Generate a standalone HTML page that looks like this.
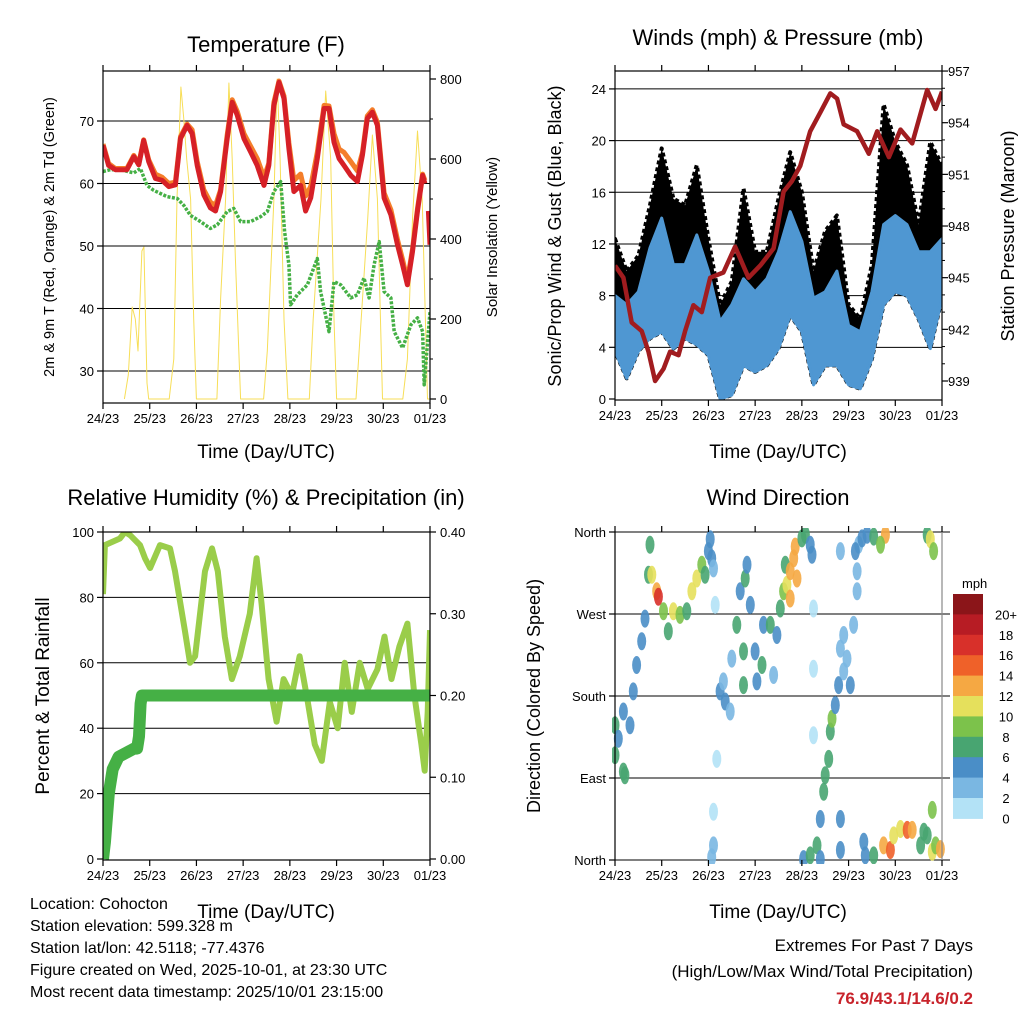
<!DOCTYPE html>
<html><head><meta charset="utf-8"><title>Station Meteogram</title>
<style>
html,body{margin:0;padding:0;background:#fff;}
svg{display:block;font-family:"Liberation Sans",Arial,sans-serif;}
</style></head>
<body>
<svg id="chart" width="1024" height="1024" viewBox="0 0 1024 1024" xmlns="http://www.w3.org/2000/svg">
<defs>
<clipPath id="c1"><rect x="103" y="71" width="327" height="332"/></clipPath>
<clipPath id="c2"><rect x="615" y="71" width="327" height="329"/></clipPath>
<clipPath id="c3"><rect x="103" y="532" width="327" height="328"/></clipPath>
<clipPath id="c4"><rect x="612" y="528" width="336" height="336"/></clipPath>
</defs>
<g id="root"></g>
</svg>
<script>
// ---------- data ----------
const dayLabels = ["24/23","25/23","26/23","27/23","28/23","29/23","30/23","01/23"];
const tempHours = [0,2.9,6.3,8.9,12.3,15.8,18.4,20.9,23.5,26.9,30.4,33.8,37.2,39.8,43.2,45.8,48.4,51.8,55.2,57.8,60.4,63.8,66.4,69,72.4,75.8,79.2,82.7,85.2,87.8,90.4,93,95.5,98.1,101.5,104.1,106.7,110.1,113.6,116.1,118.7,121.3,123.8,127.3,130.7,133.3,135.8,138.4,141,144.4,147.9,151.3,153.9,156.4,159,161.6,164.2,165.4,166.2,167.2,168];
const tempRed = [66.1,62.9,62.2,62.2,62.2,64.3,63,66.9,63.5,60.8,60.5,59.5,59.8,67.2,69.3,68,62.9,58.2,56.1,55.6,58.7,67.2,73,70.9,67.2,65.1,62.9,59.7,62.9,72.5,76.2,73.6,65.6,58.7,59.7,55.6,57.7,64,72,72,66.6,64,62.9,61.3,60.3,64.6,70.4,71.4,69.3,57.7,55,50.2,47,43.8,49.1,55.6,61.3,60,null,55.6,50.2];
const tempOrange = [66.3,63.2,62.4,62.4,62.4,64.5,63.2,67,63.8,61.5,61,60,60.2,67.5,69.5,68.6,63.5,59,57,56.5,59,67.8,73.4,71.5,68,66,64,61,63.2,73,76.4,74,66.5,60.5,61.5,58,59.5,65,72.5,72.4,68,65.5,65,63.5,62,65,70.8,71.8,69.8,58.5,55.8,51,47.8,44.5,49.5,56,61.5,60.5,null,null,null];
const dewHours = [0,3.8,8.9,15.8,19.2,22.6,26.1,32.9,38.1,41.5,44.9,50.1,55.2,58.7,63.8,67.2,70.7,75.8,81,84.4,87.8,91.3,93.3,95.5,96.4,99.8,105,110.1,111.8,116.1,118.7,122.1,127.3,130.7,134.1,136.7,139.3,141.9,144.4,147.9,149.6,153.9,158.2,161.6,164.2,165,168];
const dewGreen = [61.9,62.2,62.2,61.7,62.4,59.7,58.9,57.9,57.6,56.5,54.9,53.9,52.8,53.4,55.5,56,53.9,53.9,54.7,55.5,58.7,60.3,52.3,47,40.6,42.2,43.8,48,42.7,36.3,44.3,43.8,41.7,42.2,44.9,41.7,47,50.7,42.7,41.7,36.3,33.7,37.4,38.5,36.3,27.8,39.5];
const solarHours = [11,13,15,16.6,18,20,21,22.6,23.5, 34,36.4,38,40,41.5,43,45,46.6,48, 58.5,60.4,63,64.7,66.4,68,70.7, 82.5,84.4,87.8,89.5,91,93,95, 106,108,112,114.4,117,118.7,120, 130,132,136,138.4,141,143.6, 154,156.4,159,161.6,164,166.7,168];
const solarVals  = [0,60,230,200,120,370,380,40,0, 0,100,500,780,700,600,500,200,0, 0,250,500,790,600,350,0, 0,120,500,800,600,200,0, 0,200,500,770,600,200,0, 0,150,450,660,500,0, 0,100,450,670,500,0,0];
const windHours = [0,6,12,18,24,30,36,42,48,54,60,66,72,78,84,90,96,102,108,114,120,126,132,138,144,150,156,162,168];
const windHigh = [8.0,7.3,8.3,11.7,14,10.4,10.4,12.7,9.9,6,7.3,9.3,8.3,9.3,11.4,14.5,12.2,7.8,8.3,9.9,5.7,5.2,8.3,13.5,14.2,13.5,11.4,11.4,12.4];
const windLow  = [3.7,1.6,3.7,4.7,5.2,3.9,4.7,4.2,3.4,0,0.3,2.6,2.1,2.6,3.9,6.5,5.2,1.1,2.6,2.6,1.1,0.8,3.1,7.3,8.3,8.0,6.2,3.9,7.8];
const gustHigh = [12.4,9.9,11.1,15,19.4,15.5,15,18.1,12.4,7.3,9.1,16.3,11.4,11.4,15.5,19.1,16,9.9,13,14.2,7.3,6.2,10.4,22.8,19.9,18.1,13.5,19.9,18.1];
const presHours = [0,4.3,8.6,13.7,17.2,20.6,24.9,28.3,32.6,36,40.3,44.6,48.9,55.7,61.7,68.6,74.6,81.5,86.6,90.9,95.2,100.3,105.5,110.6,114.1,117.5,124.4,130.4,134.7,140.7,146.7,152.7,160.4,164.7,168];
const presVals  = [945.7,945.0,942.4,941.9,940.7,939.0,939.7,940.7,940.5,941.9,943.4,943.0,945.0,945.3,946.8,945.0,945.7,946.7,950.0,950.6,951.5,953.5,954.6,955.7,955.4,953.9,953.5,952.2,953.5,952.0,953.6,952.8,955.9,954.8,955.8];
const rhHours = [0,1,8.7,11.3,14,19,21.6,24.2,29.3,34.4,37,42,44.7,47.3,52.4,56,59,62.6,66.2,70.3,75.4,78.9,81.5,85.1,89.2,92.8,97,101,105.2,108.8,112.4,116.5,120.6,124.2,127.8,131.9,136,141,144.6,148.2,152.3,156.4,160,163.6,165.3,166.8,168];
const rhVals  = [81,96,98,100,99,96,92,89,96,95,88,70,60,62,88,95,88,68,55,62,75,92,78,55,42,55,50,62,48,35,30,48,40,60,45,60,52,58,68,55,65,72,50,35,27,45,70];
const precipHours = [0,1,3,5,8,12,16,17.5,18.5,19.3,20,168];
const precipVals  = [0,0.02,0.08,0.11,0.125,0.13,0.135,0.135,0.15,0.19,0.2,0.2];
const dirHours = [0,0,1.7,4.3,4.3,5.1,7.7,9.4,11.1,13.7,15.4,17.2,18,18.9,21.4,22.3,24.9,27.4,30,33.4,36.9,39.5,42,44.6,46.3,48,48.9,49.7,50.6,51.5,52.3,50.6,50.6,49.7,54,56.6,55.7,59.2,60,62.6,64.3,66,66,66.9,67.8,69.5,72,72.9,75.5,76.3,79.8,81.5,83.2,84.9,86.6,87.5,88.3,90,90,91.8,92.6,93.5,96,97.8,100.3,101.2,115.8,102,102,102,96.9,100.3,103.8,105.5,107.2,108,109.8,110.6,111.5,113.2,114.9,117.5,119.2,120.9,115.8,117.5,122.6,124.4,124.4,125.2,123.5,126.9,129.5,132.9,138.9,136.4,127.8,128.6,132.9,138,141.5,143.2,146.7,150.1,152.7,157,158.7,160.4,163,164.7,167.2,163,160.4,162,163.7,115.8,115.8,105.5];
const dirDeg = [148,115,133,163,97,93,148,185,214,240,265,313,346,313,295,289,273,251,273,269,273,295,309,324,313,339,352,331,320,280,111,53,16,3,185,174,196,163,221,258,295,229,192,309,324,280,229,196,214,258,258,203,247,276,295,324,302,287,317,331,344,309,353,357,346,335,339,276,210,137,1,5,16,45,75,93,111,141,155,170,192,207,221,192,232,247,258,295,317,346,339,353,357,355,357,346,20,5,5,16,11,27,34,33,33,16,31,27,9,16,12,55,357,352,339,45,11,1];
const dirSpeed = [7,6,5,4,7,7,5,4,4,4,4,6,7,10,12,16,8,7,10,8,7,10,10,9,7,4,4,4,2,1,1,1,3,2,4,4,3,2,2,7,4,7,6,7,4,4,4,4,7,5,7,3,4,7,8,7,10,12,12,12,13,12,7,7,4,4,2,1,1,1,4,7,7,4,7,7,6,7,8,4,4,3,3,4,3,3,2,2,2,3,4,4,5,6,12,8,4,4,7,12,15,10,10,15,12,7,6,7,10,8,12,8,7,10,8,4,4,4];
const speedBins = ["20+","18","16","14","12","10","8","6","4","2","0"];
const speedColors = ["#b3e2f6","#7ab7e2","#4a8ec7","#48a571","#7cc24b","#e5e05c","#f5a843","#ef6129","#d8302a","#b71c24","#8b1519"];

// ---------- helpers ----------
const NS = "http://www.w3.org/2000/svg";
const root = document.getElementById("root");
function mk(tag, attrs, parent){
  const e = document.createElementNS(NS, tag);
  for (const k in attrs) e.setAttribute(k, attrs[k]);
  (parent||root).appendChild(e);
  return e;
}
function txt(str, x, y, size, anchor, parent, extra){
  const t = mk("text", Object.assign({x:x, y:y, "font-size":size, "text-anchor":anchor||"middle", fill:"#000"}, extra||{}), parent);
  t.textContent = str;
  return t;
}
function linePath(xs, ys, fx, fy){
  let d = "", pen = false;
  for (let i=0;i<xs.length;i++){
    if (ys[i]===null || ys[i]===undefined){ pen=false; continue; }
    d += (pen?"L":"M") + fx(xs[i]).toFixed(1) + "," + fy(ys[i]).toFixed(1);
    pen = true;
  }
  return d;
}
function frame(x0,y0,x1,y1,name){
  const r = mk("rect",{x:x0,y:y0,width:x1-x0,height:y1-y0,fill:"none",stroke:"#000","stroke-width":1.2});
  
  
}
function xAxis(x0,x1,y0,y1,name){
  const g = mk("g",{});
  
  
  for (let i=0;i<dayLabels.length;i++){
    const x = x0 + (x1-x0)*i/7;
    mk("line",{x1:x,x2:x,y1:y1,y2:y1+6,stroke:"#000","stroke-width":1.2},g);
    mk("line",{x1:x,x2:x,y1:y0,y2:y0-6,stroke:"#000","stroke-width":1.2},g);
    const t = txt(dayLabels[i], x, y1+20, 13, "middle", g);
    
    
  }
}

// ================= PANEL 1: Temperature =================
(function(){
  const X0=103,X1=430,Y0=71,Y1=403;
  const xT = h => X0 + h*(X1-X0)/168;
  const yT = v => 371 - (v-30)*6.25;
  const yS = v => 399 - v*0.4;
  const g = mk("g",{});
  
  
  [30,40,50,60,70].forEach(v=>{
    const l = mk("line",{x1:X0,x2:X1,y1:yT(v),y2:yT(v),stroke:"#000","stroke-width":1},g);
    
    
    mk("line",{x1:X0-6,x2:X0,y1:yT(v),y2:yT(v),stroke:"#000","stroke-width":1.2},g);
    const t = txt(String(v), X0-9, yT(v)+5, 13, "end", g);
    
    
  });
  [0,200,400,600,800].forEach(v=>{
    mk("line",{x1:X1,x2:X1+6,y1:yS(v),y2:yS(v),stroke:"#000","stroke-width":1.2},g);
    const t = txt(String(v), X1+10, yS(v)+5, 13, "start", g);
    
    
  });
  for (let v=100; v<800; v+=200){ mk("line",{x1:X1,x2:X1+3,y1:yS(v),y2:yS(v),stroke:"#000"},g); }
  const c = mk("g",{"clip-path":"url(#c1)"},g);
  const s = mk("path",{d:linePath(solarHours,solarVals,xT,yS),fill:"none",stroke:"#f7de57","stroke-width":1,"stroke-linejoin":"round"},c);
  
  
  const dw = mk("path",{d:linePath(dewHours,dewGreen,xT,yT),fill:"none",stroke:"#45b045","stroke-width":3.5,"stroke-dasharray":"3 1.5","stroke-linejoin":"round"},c);
  
  
  const o = mk("path",{d:linePath(tempHours,tempOrange,xT,yT),fill:"none",stroke:"#f47e2a","stroke-width":5,"stroke-linejoin":"round"},c);
  
  
  const r = mk("path",{d:linePath(tempHours,tempRed,xT,yT),fill:"none",stroke:"#d62027","stroke-width":5,"stroke-linejoin":"round"},c);
  
  
  frame(X0,Y0,X1,Y1,'temperature-plot-frame');
  xAxis(X0,X1,Y0,Y1,'temperature-x-axis');
  let t = txt("Temperature (F)", 266, 52, 22, "middle", g);
   
  t = txt("2m & 9m T (Red, Orange) & 2m Td (Green)", 0, 0, 14.5, "middle", g, {transform:"translate(54,237) rotate(-90)"});
   
  t = txt("Solar Insolation (Yellow)", 0, 0, 15, "middle", g, {transform:"translate(497,237) rotate(-90)"});
   
  t = txt("Time (Day/UTC)", 266, 458, 19, "middle", g);
   
})();

// ================= PANEL 2: Winds & Pressure =================
(function(){
  const X0=615,X1=942,Y0=71,Y1=400;
  const xW = h => X0 + h*(X1-X0)/168;
  const yW = v => 399 - v*12.92;
  const yP = p => 381 - (p-939)*17.22;
  const g = mk("g",{});
  
  
  [0,4,8,12,16,20,24].forEach(v=>{
    if (v>0){
      const l = mk("line",{x1:X0,x2:X1,y1:yW(v),y2:yW(v),stroke:"#000","stroke-width":1},g);
      
      
    }
    mk("line",{x1:X0-6,x2:X0,y1:yW(v),y2:yW(v),stroke:"#000","stroke-width":1.2},g);
    const t = txt(String(v), X0-9, yW(v)+5, 13, "end", g);
     
  });
  [939,942,945,948,951,954,957].forEach(v=>{
    mk("line",{x1:X1,x2:X1+6,y1:yP(v),y2:yP(v),stroke:"#000","stroke-width":1.2},g);
    const t = txt(String(v), X1+6, yP(v)+5, 13, "start", g);
     
  });
  for (let v=940; v<957; v++){ if ((v-939)%3) mk("line",{x1:X1,x2:X1+3,y1:yP(v),y2:yP(v),stroke:"#000"},g); }
  const c = mk("g",{"clip-path":"url(#c2)"},g);
  let d = linePath(windHours,gustHigh,xW,yW);
  for (let i=windHours.length-1;i>=0;i--) d += "L"+xW(windHours[i]).toFixed(1)+","+yW(windLow[i]).toFixed(1);
  const gb = mk("path",{d:d+"Z",fill:"#000",stroke:"#000","stroke-width":4,"stroke-dasharray":"4 3","stroke-linejoin":"round"},c);
  
  
  let d2 = linePath(windHours,windHigh,xW,yW);
  for (let i=windHours.length-1;i>=0;i--) d2 += "L"+xW(windHours[i]).toFixed(1)+","+yW(windLow[i]).toFixed(1);
  const wb = mk("path",{d:d2+"Z",fill:"#4f97d2",stroke:"#4f97d2","stroke-width":3,"stroke-linejoin":"round"},c);
  
  
  const p = mk("path",{d:linePath(presHours,presVals,xW,yP),fill:"none",stroke:"#a11c1f","stroke-width":4.5,"stroke-linejoin":"round"},c);
  
  
  frame(X0,Y0,X1,Y1,'winds-plot-frame');
  xAxis(X0,X1,Y0,Y1,'winds-x-axis');
  let t = txt("Winds (mph) & Pressure (mb)", 778, 45, 22, "middle", g);
   
  t = txt("Sonic/Prop Wind & Gust (Blue, Black)", 0, 0, 18, "middle", g, {transform:"translate(561,236) rotate(-90)"});
   
  t = txt("Station Pressure (Maroon)", 0, 0, 18, "middle", g, {transform:"translate(1014,236) rotate(-90)"});
   
  t = txt("Time (Day/UTC)", 778, 458, 19, "middle", g);
   
})();

// ================= PANEL 3: RH & Precip =================
(function(){
  const X0=103,X1=430,Y0=532,Y1=860;
  const xR = h => X0 + h*(X1-X0)/168;
  const yR = v => 859 - v*3.27;
  const yPr = v => 859 - v*817.5;
  const g = mk("g",{});
  
  
  [0,20,40,60,80,100].forEach(v=>{
    if (v>0 && v<100){
      const l = mk("line",{x1:X0,x2:X1,y1:yR(v),y2:yR(v),stroke:"#000","stroke-width":1},g);
       
    }
    mk("line",{x1:X0-6,x2:X0,y1:yR(v),y2:yR(v),stroke:"#000","stroke-width":1.2},g);
    const t = txt(String(v), X0-9, yR(v)+5, 13, "end", g);
     
  });
  ["0.00","0.10","0.20","0.30","0.40"].forEach(s=>{
    const v = parseFloat(s);
    mk("line",{x1:X1,x2:X1+6,y1:yPr(v),y2:yPr(v),stroke:"#000","stroke-width":1.2},g);
    const t = txt(s, X1+10, yPr(v)+5, 13, "start", g);
     
  });
  const c = mk("g",{"clip-path":"url(#c3)"},g);
  const rh = mk("path",{d:linePath(rhHours,rhVals,xR,yR),fill:"none",stroke:"#9acd4a","stroke-width":6,"stroke-linejoin":"round"},c);
   
  const pr = mk("path",{d:linePath(precipHours,precipVals,xR,yPr),fill:"none",stroke:"#45b045","stroke-width":12,"stroke-linejoin":"round"},c);
   
  frame(X0,Y0,X1,Y1,'humidity-plot-frame');
  xAxis(X0,X1,Y0,Y1,'humidity-x-axis');
  let t = txt("Relative Humidity (%) & Precipitation (in)", 266, 505, 22, "middle", g);
   
  t = txt("Percent & Total Rainfall", 0, 0, 19, "middle", g, {transform:"translate(49,696) rotate(-90)"});
   
  t = txt("Time (Day/UTC)", 266, 918, 19, "middle", g);
   
})();

// ================= PANEL 4: Wind Direction =================
(function(){
  const X0=615,X1=942,Y0=532,Y1=860;
  const xD = h => X0 + h*(X1-X0)/168;
  const yD = d => 860 - d*328/360;
  const g = mk("g",{});
  
  
  const dirLabels = ["North","East","South","West","North"];
  [0,90,180,270,360].forEach((v,i)=>{
    const l = mk("line",{x1:X0,x2:950,y1:yD(v),y2:yD(v),stroke:"#000","stroke-width":1},g);
     
    mk("line",{x1:X0-6,x2:X0,y1:yD(v),y2:yD(v),stroke:"#000","stroke-width":1.2},g);
    const t = txt(dirLabels[i], X0-9, yD(v)+5, 13, "end", g);
     
  });
  const c = mk("g",{"clip-path":"url(#c4)"},g);
  for (let i=0;i<dirHours.length;i++){
    const bin = Math.min(10, Math.floor(dirSpeed[i]/2));
    const e = mk("ellipse",{cx:xD(dirHours[i]).toFixed(1), cy:yD(dirDeg[i]).toFixed(1), rx:4.5, ry:9, fill:speedColors[bin], "fill-opacity":0.9},c);
    
    
  }
  mk("line",{x1:X0,x2:X0,y1:Y0,y2:Y1,stroke:"#000","stroke-width":1.2},g);
  mk("line",{x1:X1,x2:X1,y1:Y0,y2:Y1,stroke:"#888","stroke-width":1.2},g);
  xAxis(X0,X1,Y0,Y1,'direction-x-axis');
  const cb = mk("g",{},g);
  
  
  const top = 594, bh = 20.4;
  let t = txt("mph", 962, 588, 13, "start", cb);
   
  for (let i=0;i<speedBins.length;i++){
    const r = mk("rect",{x:953,y:top+i*bh,width:30,height:bh+0.5,fill:speedColors[10-i]},cb);
    
    
    const l = txt(speedBins[i], 1006, top+i*bh+bh+5, 13, "middle", cb);
     
  }
  t = txt("Wind Direction", 778, 505, 22, "middle", g);
   
  t = txt("Direction (Colored By Speed)", 0, 0, 18, "middle", g, {transform:"translate(540,696) rotate(-90)"});
   
  t = txt("Time (Day/UTC)", 778, 918, 19, "middle", g);
   
})();

// ================= Footer =================
(function(){
  const g = mk("g",{});
  
  
  const lines = ["Location: Cohocton","Station elevation: 599.328 m","Station lat/lon: 42.5118; -77.4376","Figure created on Wed, 2025-10-01, at 23:30 UTC","Most recent data timestamp: 2025/10/01 23:15:00"];
  lines.forEach((s,i)=>{
    const t = txt(s, 30, 909+i*22, 16, "start", g);
     
  });
  const g2 = mk("g",{});
  
  
  let t = txt("Extremes For Past 7 Days", 973, 951, 17, "end", g2);
   
  t = txt("(High/Low/Max Wind/Total Precipitation)", 973, 977, 17, "end", g2);
   
  t = txt("76.9/43.1/14.6/0.2", 973, 1004, 17, "end", g2, {fill:"#c8232b","font-weight":"bold"});
   
})();
</script>
</body></html>
